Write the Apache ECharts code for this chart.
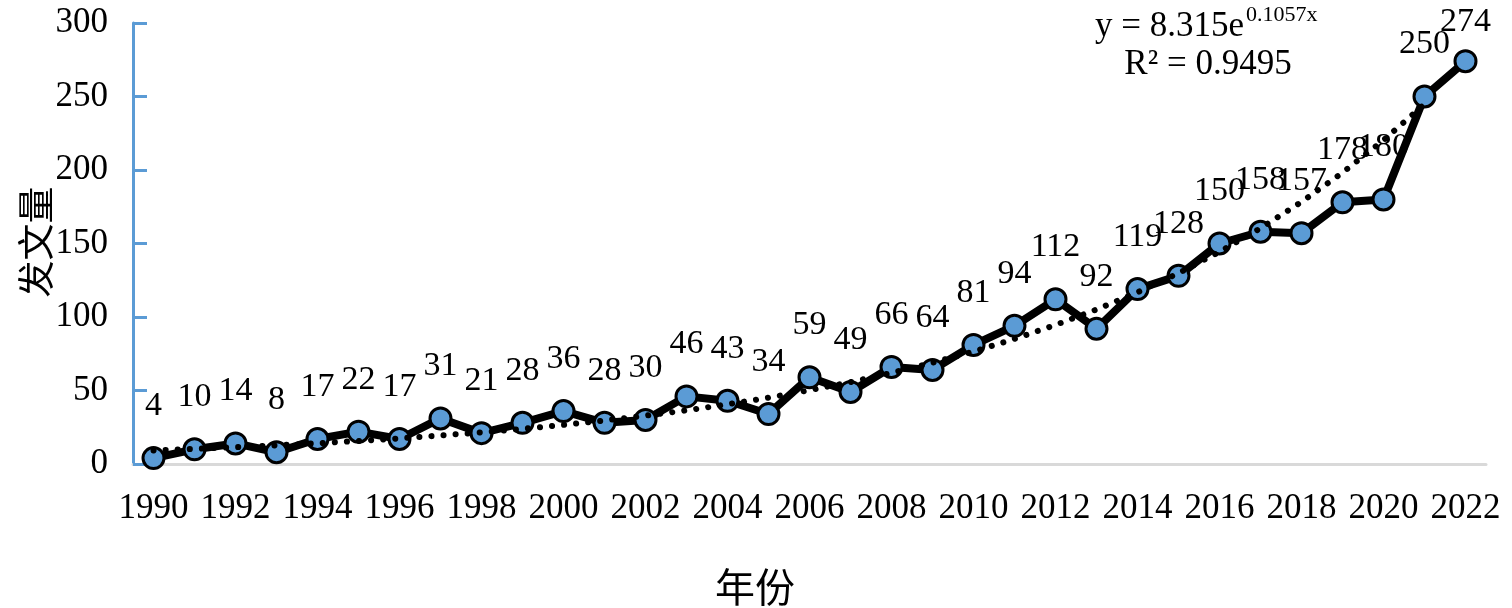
<!DOCTYPE html>
<html>
<head>
<meta charset="utf-8">
<script src="https://cdn.jsdelivr.net/npm/echarts@6/dist/echarts.min.js"></script>
<style>
html,body{margin:0;padding:0;background:#fff;}
#chart{width:1512px;height:608px;}
</style>
</head>
<body>
<div id="chart"></div>
<script>
const years = ['1990','1991','1992','1993','1994','1995','1996','1997','1998','1999','2000','2001','2002','2003','2004','2005','2006','2007','2008','2009','2010','2011','2012','2013','2014','2015','2016','2017','2018','2019','2020','2021','2022'];
const counts = [4,10,14,8,17,22,17,31,21,28,36,28,30,46,43,34,59,49,66,64,81,94,112,92,119,128,150,158,157,178,180,250,274];
const trend = [9.2,10.3,11.4,12.7,14.1,15.7,17.4,19.4,21.5,23.9,26.6,29.6,32.9,36.5,40.6,45.1,50.2,55.7,62.0,68.9,76.5,85.1,94.6,105.1,116.8,129.8,144.3,160.4,178.3,198.2,220.3,244.8,null];
const yTicks = [0,50,100,150,200,250,300];
const xTitle = '年份';
const yTitle = '发文量';
const eqMain = 'y = 8.315e';
const eqExp = '0.1057x';
const r2Text = 'R² = 0.9495';

const serif = '"Liberation Serif","Times New Roman",serif';
const cjk = '"Noto Sans CJK SC",sans-serif';

const chart = echarts.init(document.getElementById('chart'), null, {renderer:'canvas'});

const mainData = counts.map((v, i) => {
  if (i === counts.length - 1) {
    return {value: v, label: {distance: 10}};
  }
  return v;
});

chart.setOption({
  animation: false,
  backgroundColor: '#ffffff',
  grid: {left: 133, right: 26, top: 23, bottom: 144, containLabel: false},
  xAxis: {
    type: 'category',
    data: years,
    boundaryGap: true,
    axisLine: {show: true, lineStyle: {color: '#D9D9D9', width: 3}},
    axisTick: {show: false},
    axisLabel: {interval: 1, color: '#000', fontFamily: serif, fontSize: 35, margin: 27}
  },
  yAxis: {
    type: 'value',
    min: yTicks[0],
    max: yTicks[yTicks.length - 1],
    interval: yTicks[1] - yTicks[0],
    splitLine: {show: false},
    axisLine: {show: true, lineStyle: {color: '#5B9BD5', width: 3}},
    axisTick: {show: true, inside: true, length: 14, lineStyle: {color: '#5B9BD5', width: 3}},
    axisLabel: {color: '#000', fontFamily: serif, fontSize: 35, margin: 25}
  },
  series: [
    {
      type: 'line',
      data: mainData,
      z: 2,
      symbol: 'circle',
      symbolSize: 21,
      itemStyle: {color: '#5B9BD5', borderColor: '#000', borderWidth: 3},
      lineStyle: {color: '#000', width: 8},
      label: {show: true, position: 'top', distance: 23, color: '#000', fontFamily: serif, fontSize: 34}
    },
    {
      type: 'line',
      data: trend,
      z: 5,
      symbol: 'none',
      smooth: false,
      lineStyle: {color: '#000', width: 6, type: [0.1, 12], cap: 'round'},
      silent: true
    }
  ],
  graphic: [
    {type: 'text', x: 1095, y: 27, style: {text: eqMain, font: '35px ' + serif, fill: '#000', textAlign: 'left', textVerticalAlign: 'middle'}},
    {type: 'text', x: 1246, y: 15, style: {text: eqExp, font: '22px ' + serif, fill: '#000', textAlign: 'left', textVerticalAlign: 'middle'}},
    {type: 'text', x: 1208, y: 65, style: {text: r2Text, font: '35px ' + serif, fill: '#000', textAlign: 'center', textVerticalAlign: 'middle'}},
    {type: 'text', x: 755, y: 587, style: {text: xTitle, font: '40px ' + cjk, fill: '#000', textAlign: 'center', textVerticalAlign: 'middle'}},
    {type: 'text', x: 36, y: 242, rotation: Math.PI / 2, style: {text: yTitle, font: '37px ' + cjk, fill: '#000', textAlign: 'center', textVerticalAlign: 'middle'}}
  ]
});
</script>
</body>
</html>
